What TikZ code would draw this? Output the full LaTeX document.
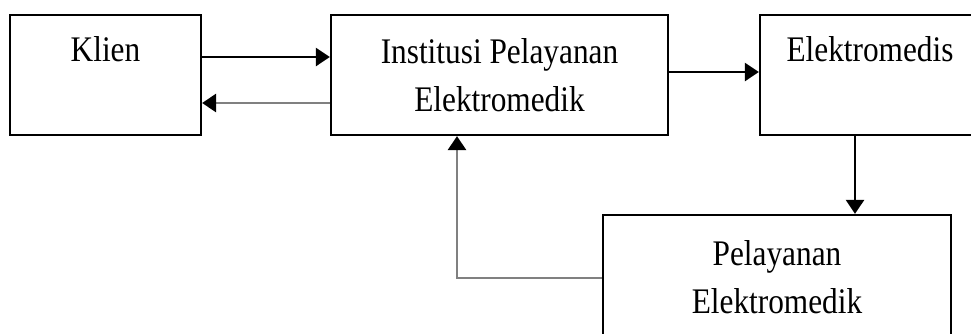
\documentclass[tikz,border=0pt]{standalone}
\usepackage{fontspec}
\setmainfont{Liberation Serif}[FakeStretch=0.87]
\usetikzlibrary{arrows.meta}

\begin{document}
\begin{tikzpicture}[x=0.5pt,y=-0.5pt,
  box/.style={draw,line width=1.1pt,inner sep=0pt},
  txt/.style={font=\fontsize{18}{24}\selectfont,inner sep=0pt},
  arr/.style={line width=1.2pt,-{Triangle[length=7pt,width=9pt]}},
  back/.style={line width=1.3pt,draw=black!50,-{Triangle[length=7pt,width=9pt,color=black]}}]
\useasboundingbox (0,0) rectangle (971,333);
\clip (0,0) rectangle (971,333);
\node[box,minimum width=95.5pt,minimum height=60pt] (klien) at (105.5,75) {};
\node[box,minimum width=168.5pt,minimum height=60pt] (inst) at (499.5,75) {};
\node[box,minimum width=120pt,minimum height=60pt] (elektro) at (880,75) {};
\node[box,minimum width=174pt,minimum height=70pt] (pel) at (777,285) {};
\node[txt,anchor=base] (klien-t) at ([yshift=-24pt]klien.north) {Klien};
\node[txt,align=center] (inst-t) at (inst) {Institusi Pelayanan\\Elektromedik};
\node[txt,anchor=base] (elektro-t) at ([xshift=-5pt,yshift=-24pt]elektro.north) {Elektromedis};
\node[txt,align=center] (pel-t) at ([yshift=4pt]pel.center) {Pelayanan\\Elektromedik};
\draw[arr] ([yshift=9pt]klien.east) -- ([yshift=9pt]inst.west);
\draw[back] ([yshift=-14pt]inst.west) -- ([yshift=-14pt]klien.east);
\draw[arr] ([yshift=1.5pt]inst.east) -- ([yshift=1.5pt]elektro.west);
\draw[arr] ([xshift=-12.5pt]elektro.south) -- ([xshift=39pt]pel.north);
\draw[back] ([yshift=3.5pt]pel.west) -| ([xshift=-21.25pt]inst.south);
\end{tikzpicture}
\end{document}
